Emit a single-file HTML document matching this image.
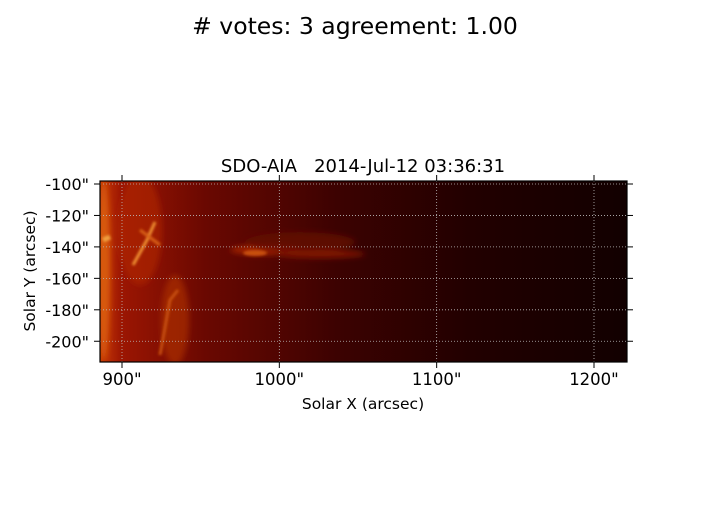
<!DOCTYPE html>
<html><head><meta charset="utf-8"><style>
body{margin:0;background:#fff;}
svg text{font-family:"DejaVu Sans","Liberation Sans",sans-serif;fill:#000;white-space:pre;}
</style></head><body>
<svg id="chart" width="709" height="514" viewBox="0 0 709 514">
<defs>
<linearGradient id="bg" x1="0" x2="1" y1="0" y2="0">
<stop offset="0" stop-color="#c83a06"/>
<stop offset="0.04" stop-color="#9c1602"/>
<stop offset="0.2" stop-color="#6a0801"/>
<stop offset="0.45" stop-color="#3c0201"/>
<stop offset="0.7" stop-color="#220000"/>
<stop offset="1" stop-color="#120000"/>
</linearGradient>
<filter id="b3"><feGaussianBlur stdDeviation="3"/></filter>
<filter id="b1"><feGaussianBlur stdDeviation="1.2"/></filter>
<clipPath id="clip"><rect x="100" y="181" width="527" height="181"/></clipPath>
</defs>
<text x="355" y="34" font-size="23.5" text-anchor="middle"># votes: 3 agreement: 1.00</text>
<text x="363" y="172" font-size="18" text-anchor="middle">SDO-AIA   2014-Jul-12 03:36:31</text>
<g clip-path="url(#clip)">
<rect x="100" y="181" width="527" height="181" fill="url(#bg)"/>
<g filter="url(#b3)">
<ellipse cx="104" cy="270" rx="6" ry="90" fill="#d85a0c"/>
<ellipse cx="140" cy="230" rx="22" ry="55" fill="#b02a04" opacity="0.6"/>
<ellipse cx="175" cy="320" rx="14" ry="45" fill="#b03206" opacity="0.6"/>
<ellipse cx="265" cy="250" rx="35" ry="5" fill="#a02204"/>
<ellipse cx="300" cy="242" rx="55" ry="10" fill="#640a01" opacity="0.8"/>
<ellipse cx="320" cy="254" rx="45" ry="4" fill="#801402"/>
</g>
<g filter="url(#b1)">
<path d="M133 265 L147 240 L155 222" stroke="#f09030" stroke-width="3" fill="none"/>
<path d="M140 230 L160 245" stroke="#d86018" stroke-width="3" fill="none"/>
<path d="M103 240 L110 237" stroke="#f0a040" stroke-width="5" fill="none"/>
<path d="M160 355 L170 300 L178 290" stroke="#c85010" stroke-width="3" fill="none"/>
<ellipse cx="255" cy="253" rx="12" ry="3" fill="#c85010"/>
</g>
</g>
<g id="grid"></g>
<rect x="100" y="181" width="527" height="181" fill="none" stroke="#000" stroke-width="1.2"/>
<g id="axes"></g>
<text x="363" y="409" font-size="15.5" text-anchor="middle">Solar X (arcsec)</text>
<text x="35" y="271" font-size="15.5" text-anchor="middle" transform="rotate(-90 35 271)">Solar Y (arcsec)</text>
</svg>
<script>
const xTicks=[900,1000,1100,1200];
const yTicks=[-100,-120,-140,-160,-180,-200];
const xs=v=>122+(v-900)*1.5733;
const ys=v=>184+(-100-v)*1.5725;
const NS="http://www.w3.org/2000/svg";
const grid=document.getElementById('grid'),axes=document.getElementById('axes');
function mk(tag,attrs,parent){const e=document.createElementNS(NS,tag);for(const k in attrs)e.setAttribute(k,attrs[k]);parent.appendChild(e);return e;}
xTicks.forEach(v=>{const x=xs(v);
 const g=mk('line',{x1:x,x2:x,y1:181,y2:362,stroke:'#bbb','stroke-width':0.8,'stroke-dasharray':'1,2'},grid);
 
 
 const t1=mk('line',{x1:x,x2:x,y1:362,y2:368,stroke:'#000'},axes);
 
 
 const t2=mk('line',{x1:x,x2:x,y1:175,y2:181,stroke:'#000'},axes);
 
 
 const l=mk('text',{x:x,y:385,'font-size':16.5,'text-anchor':'middle'},axes);l.textContent=v+'"';
 
 
});
yTicks.forEach(v=>{const y=ys(v);
 const g=mk('line',{x1:100,x2:627,y1:y,y2:y,stroke:'#bbb','stroke-width':0.8,'stroke-dasharray':'1,2'},grid);
 
 
 const t1=mk('line',{x1:94,x2:100,y1:y,y2:y,stroke:'#000'},axes);
 
 
 const t2=mk('line',{x1:627,x2:633,y1:y,y2:y,stroke:'#000'},axes);
 
 
 const l=mk('text',{x:89,y:y+6,'font-size':16,'text-anchor':'end'},axes);l.textContent=v+'"';
 
 
});
</script>
</body></html>
